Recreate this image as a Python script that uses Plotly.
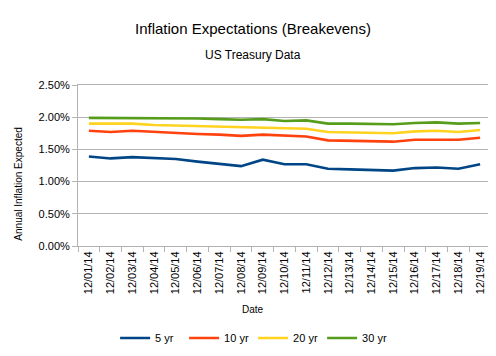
import plotly.graph_objects as go

dates = ["12/01/14", "12/02/14", "12/03/14", "12/04/14", "12/05/14", "12/06/14", "12/07/14",
         "12/08/14", "12/09/14", "12/10/14", "12/11/14", "12/12/14", "12/13/14", "12/14/14",
         "12/15/14", "12/16/14", "12/17/14", "12/18/14", "12/19/14"]
yr5 = [1.39, 1.36, 1.38, 1.36, 1.35, 1.31, 1.28, 1.24, 1.34, 1.27, 1.27, 1.20, 1.19, 1.18, 1.17, 1.21, 1.22, 1.20, 1.27]
yr10 = [1.79, 1.77, 1.79, 1.77, 1.75, 1.74, 1.73, 1.71, 1.73, 1.71, 1.70, 1.64, 1.63, 1.63, 1.62, 1.65, 1.65, 1.65, 1.68]
yr20 = [1.90, 1.90, 1.90, 1.88, 1.87, 1.86, 1.86, 1.85, 1.84, 1.82, 1.82, 1.77, 1.76, 1.76, 1.75, 1.78, 1.79, 1.77, 1.80]
yr30 = [1.99, 1.99, 1.99, 1.98, 1.99, 1.98, 1.97, 1.96, 1.97, 1.94, 1.95, 1.90, 1.90, 1.89, 1.89, 1.91, 1.92, 1.90, 1.91]
series_names = ["5 yr", "10 yr", "20 yr", "30 yr"]
colors = ["#004586", "#ff420e", "#ffd320", "#579d1c"]

font = "Liberation Sans, Arial, sans-serif"
fig = go.Figure()
for name, vals, c in zip(series_names, [yr5, yr10, yr20, yr30], colors):
    fig.add_trace(go.Scatter(x=dates, y=[v / 100 for v in vals], name=name, mode="lines",
                             line=dict(color=c, width=2.6)))

fig.update_layout(
    width=496, height=356,
    margin=dict(l=70, r=13, t=77, b=111),
    paper_bgcolor="white", plot_bgcolor="white",
    font=dict(family=font, color="black", size=11),
    showlegend=True,
    legend=dict(orientation="h", x=0.424, xanchor="center", y=-0.571, yanchor="middle",
                font=dict(size=11), entrywidth=24, entrywidthmode="pixels",
                tracegroupgap=0),
    xaxis=dict(type="category", range=[-0.5, len(dates) - 0.5], tickangle=-90,
               tickson="boundaries", ticks="outside",
               ticklen=5, tickcolor="#b3b3b3", showgrid=False, showline=True,
               linecolor="#b3b3b3", mirror=True, tickfont=dict(size=11)),
    yaxis=dict(range=[0, 0.025], tickformat=".2%", dtick=0.005, showgrid=True,
               gridcolor="#b3b3b3", showline=True, linecolor="#b3b3b3", mirror=True,
               ticks="outside", ticklen=5, tickcolor="#b3b3b3", tickfont=dict(size=11),
               zeroline=False),
    annotations=[
        dict(text="Inflation Expectations (Breakevens)", xref="paper", yref="paper",
             x=0.424, y=1.351, xanchor="center", yanchor="middle", showarrow=False,
             font=dict(size=15)),
        dict(text="US Treasury Data", xref="paper", yref="paper",
             x=0.424, y=1.1845, xanchor="center", yanchor="middle", showarrow=False,
             font=dict(size=12)),
        dict(text="Date", xref="paper", yref="paper", x=0.424, y=-0.393,
             xanchor="center", yanchor="middle", showarrow=False, font=dict(size=10)),
        dict(text="Annual Inflation Expected", xref="paper", yref="paper", x=-0.143,
             y=0.387, xanchor="center", yanchor="middle", textangle=-90,
             showarrow=False, font=dict(size=10)),
    ],
)
fig.write_html("out.html")
